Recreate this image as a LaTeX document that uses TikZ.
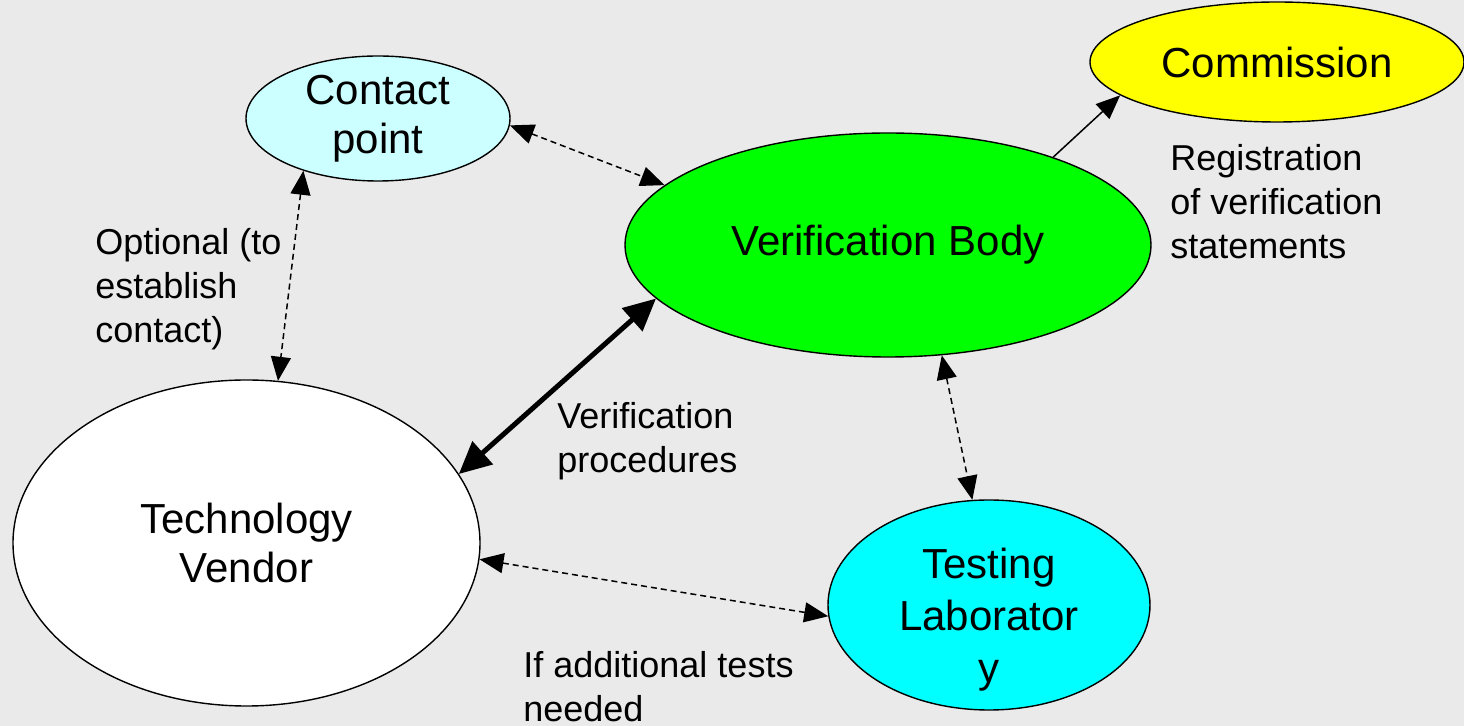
\documentclass[tikz,border=0pt]{standalone}
\usepackage{fontspec}
\setmainfont{Liberation Sans}
\usetikzlibrary{shapes.geometric,arrows.meta}
\definecolor{bggray}{HTML}{EAEAEA}
\definecolor{paleCyan}{HTML}{CCFFFF}
\definecolor{labCyan}{HTML}{00FFFF}
\definecolor{bodyGreen}{HTML}{00FF00}
\definecolor{comYellow}{HTML}{FFFF00}
\tikzset{
  party/.style = {ellipse, draw=black, line width=0.7pt, inner sep=0pt, align=center, font=\fontsize{21}{24.5}\selectfont},
  note/.style = {align=left, inner sep=0pt, anchor=west, font=\fontsize{18}{22}\selectfont},
  optlink/.style = {line width=0.75pt, dash pattern=on 3pt off 2pt, {Triangle[length=12pt,width=10pt]}-{Triangle[length=12pt,width=10pt]}},
  mainlink/.style = {line width=2.5pt, {Triangle[length=16pt,width=15pt]}-{Triangle[length=16pt,width=15pt]}},
  reglink/.style = {line width=0.75pt, -{Triangle[length=12pt,width=10pt]}}
}
\begin{document}
\begin{tikzpicture}
	\fill[bggray] (0,0) rectangle (732pt,-363pt);
	\useasboundingbox (0,0) rectangle (732pt,-363pt);
	% parties
	\node [party, fill=paleCyan, minimum width=132pt, minimum height=62.5pt] (contact) at (189pt,-59.25pt) {Contact\\point};
	\node [party, fill=comYellow, minimum width=187pt, minimum height=60pt] (commission) at (638.5pt,-31pt) {Commission};
	\node [party, fill=bodyGreen, minimum width=263pt, minimum height=112pt] (vbody) at (444pt,-122.5pt) {Verification Body};
	\node [party, fill=white, minimum width=233.5pt, minimum height=163pt] (vendor) at (123.25pt,-271.5pt) {Technology\\Vendor};
	\node [party, fill=labCyan, minimum width=161pt, minimum height=105pt,
	       label={[align=center, font=\fontsize{21}{26}\selectfont, yshift=-7.5pt]center:Testing\\Laborator\\y}] (testlab) at (494.5pt,-302.5pt) {};
	% links
	\draw [optlink] (contact.-3) -- (vbody.165);
	\draw [optlink] (contact.-145) -- (vendor.79);
	\draw [reglink] (vbody.28) -- (commission.192);
	\draw [mainlink] (vbody.193) -- (vendor.18);
	\draw [optlink] (vbody.-64) -- (testlab.99);
	\draw [optlink] (vendor.-4) -- (testlab.184);
	% notes
	\node [note] (optnote) at (47.5pt,-144.5pt) {Optional (to\\establish\\contact)};
	\node [note] (procnote) at (278.5pt,-220.75pt) {Verification\\procedures};
	\node [note] (testnote) at (261.5pt,-343.5pt) {If additional tests\\needed};
	\node [note] (regnote) at (585pt,-101pt) {Registration\\of verification\\statements};
\end{tikzpicture}
\end{document}
